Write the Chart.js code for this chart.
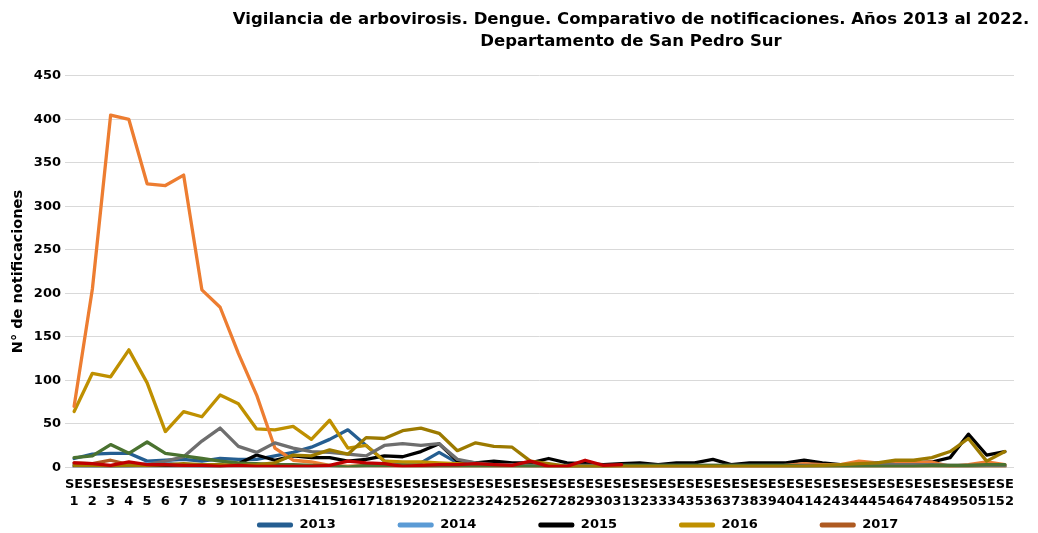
<!DOCTYPE html>
<html>
<head>
<meta charset="utf-8">
<script src="https://cdn.jsdelivr.net/npm/chart.js@4.4.1/dist/chart.umd.min.js"></script>
<style>
  html, body { margin: 0; padding: 0; background: #fff; }
  #wrap { width: 1038px; height: 533px; }
</style>
</head>
<body>
<div id="wrap"><canvas id="c" width="1038" height="533"></canvas></div>
<script>
const weeks = [1,2,3,4,5,6,7,8,9,10,11,12,13,14,15,16,17,18,19,20,21,22,23,24,25,26,27,28,29,30,31,32,33,34,35,36,37,38,39,40,41,42,43,44,45,46,47,48,49,50,51,52];
const titleLines = ['Vigilancia de arbovirosis. Dengue. Comparativo de notificaciones. Años 2013 al 2022.', 'Departamento de San Pedro Sur'];
const yTitle = 'N° de notificaciones';
const yTicks = [0, 50, 100, 150, 200, 250, 300, 350, 400, 450];

const years = ['2013','2014','2015','2016','2017','2018','2019','2020','2021','2022'];
const colors = ['#255E91','#5B9BD5','#000000','#BF9000','#AE5A21','#ED7D31','#6E6E6E','#4A7230','#9C7A00','#C00000'];

const s2013 = [10,15,16,16,7,8,9,7,10,9,9,13,17,23,32,43,25,7,5,5,17,5,2,2,2,1,1,1,1,1,1,1,1,1,1,1,1,1,1,1,2,2,2,3,5,3,2,2,1,1,2,2];
const s2014 = [2,1,1,1,4,5,2,1,1,0,0,0,0,0,0,0,0,0,0,0,0,0,0,0,0,0,0,0,0,0,0,0,0,0,0,0,0,0,0,0,0,0,0,0,0,0,0,0,0,0,0,0];
const s2015 = [0,0,0,0,0,0,1,1,1,4,14,8,13,11,11,7,9,13,12,18,27,7,5,7,5,5,10,5,4,3,4,5,3,5,5,9,3,5,5,5,8,5,3,3,5,5,5,6,11,38,14,18];
const s2016 = [64,108,104,135,97,41,64,58,83,73,44,43,47,32,54,22,25,7,6,6,5,4,3,3,2,2,1,1,1,1,1,1,1,1,1,1,1,1,1,1,1,1,1,1,1,1,1,1,1,1,1,1];
const s2017 = [5,4,8,3,3,3,2,2,1,1,1,1,1,1,1,1,1,1,1,1,1,1,0,0,0,0,0,0,0,0,0,0,0,0,0,0,0,0,0,0,0,0,0,0,0,0,0,0,0,0,0,0];
const s2018 = [70,205,405,400,326,324,336,204,184,131,83,22,8,6,2,1,2,1,0,1,1,0,1,0,0,0,0,0,0,0,0,0,0,1,0,0,0,1,0,2,4,3,3,7,5,4,5,6,1,3,6,3];
const s2019 = [3,4,1,3,3,7,12,30,45,24,17,28,22,18,17,15,13,25,27,25,27,9,5,3,3,2,2,2,2,2,2,2,2,2,2,2,2,2,2,2,2,2,2,3,5,3,3,3,2,2,2,2];
const s2020 = [11,13,26,16,29,16,13,10,7,5,4,3,3,2,2,0,2,2,2,1,1,1,1,1,1,1,1,1,1,1,2,2,2,2,2,2,2,2,2,2,1,1,1,1,1,1,1,2,2,2,3,3];
const s2021 = [2,2,1,2,2,3,4,3,3,2,3,5,14,13,20,15,34,33,42,45,39,19,28,24,23,7,4,1,1,1,1,1,1,1,1,1,1,1,1,1,1,2,3,4,5,8,8,11,18,33,7,18];
const s2022 = [5,4,2,6,3,3,2,2,1,2,1,1,1,1,2,7,5,4,1,2,3,3,4,3,2,7,1,1,8,2,3];

const seriesValues = [s2013,s2014,s2015,s2016,s2017,s2018,s2019,s2020,s2021,s2022];

Chart.defaults.font.family = "'DejaVu Sans', Verdana, sans-serif";
Chart.defaults.font.weight = 'bold';
Chart.defaults.color = '#000';

const shiftPlugin = {
  id: 'shiftBlocks',
  afterLayout(chart) {
    const t = chart.titleBlock;
    if (t) { t.left += 124; t.right += 124; }
    const lg = chart.legend;
    if (lg) { lg.left = 195; lg.right = 1038; lg.top = 456.5; lg.bottom = 533; }
  }
};

const datasets = seriesValues.map((vals, i) => ({
  label: years[i],
  data: vals,
  borderColor: colors[i],
  backgroundColor: colors[i],
  borderWidth: 3.3,
  pointRadius: 0,
  pointHoverRadius: 0,
  tension: 0,
  fill: false,
  order: 10 - i,
  borderJoinStyle: 'round',
  borderCapStyle: 'round'
}));

new Chart(document.getElementById('c'), {
  type: 'line',
  data: {
    labels: weeks.map(w => ['SE', String(w)]),
    datasets: datasets
  },
  plugins: [shiftPlugin],
  options: {
    responsive: false,
    animation: false,
    layout: { padding: { left: 0, right: 24, top: 0, bottom: 0 } },
    plugins: {
      tooltip: { enabled: false },
      title: {
        display: true,
        text: titleLines,
        color: '#000',
        font: { size: 16.5, weight: 'bold', lineHeight: 1.333 },
        padding: { top: 9, bottom: 23 }
      },
      legend: {
        display: true,
        position: 'bottom',
        align: 'start',
        maxHeight: 14,
        labels: {
          boxWidth: 36,
          boxHeight: 5,
          padding: 62,
          color: '#000',
          font: { size: 13, weight: 'bold' },
          useBorderRadius: true,
          borderRadius: 2,
          filter: (item) => item.datasetIndex < 5,
          sort: (a, b) => a.datasetIndex - b.datasetIndex,
          generateLabels: (chart) => {
            const items = Chart.defaults.plugins.legend.labels.generateLabels(chart);
            return items.map(it => Object.assign(it, { lineWidth: 0, fillStyle: it.strokeStyle, borderRadius: 2 }));
          }
        }
      }
    },
    scales: {
      x: {
        offset: true,
        grid: { display: false, drawTicks: false },
        border: { display: false },
        ticks: {
          autoSkip: false,
          maxRotation: 0,
          minRotation: 0,
          padding: 9,
          color: '#000',
          font: { size: 13, weight: 'bold', lineHeight: 1.3 }
        }
      },
      y: {
        min: 0,
        max: 450,
        afterFit: (scale) => { scale.width = 65; },
        afterBuildTicks: (scale) => { scale.ticks = yTicks.map(v => ({ value: v })); },
        grid: { color: '#d9d9d9', lineWidth: 1, drawTicks: false },
        border: { display: false },
        ticks: {
          padding: 4,
          color: '#000',
          font: { size: 13, weight: 'bold' }
        },
        title: {
          display: true,
          text: yTitle,
          color: '#000',
          font: { size: 14.5, weight: 'bold', lineHeight: 1.2 },
          padding: { top: 9.5, bottom: 0 }
        }
      }
    }
  }
});
</script>
</body>
</html>
